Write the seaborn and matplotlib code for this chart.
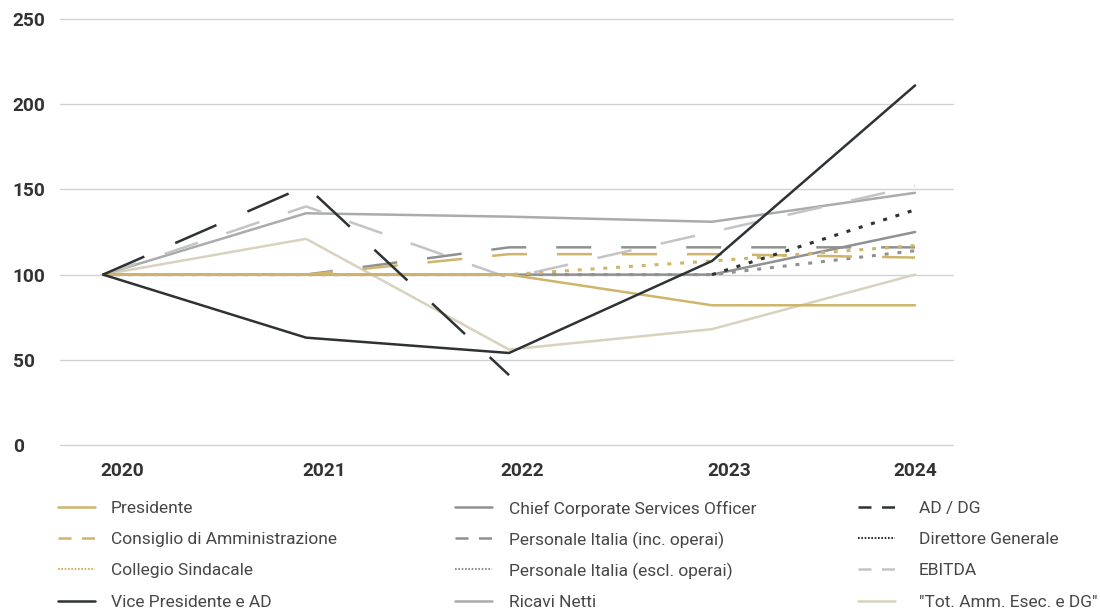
import numpy as np
import pandas as pd
import matplotlib
matplotlib.use("Agg")
import matplotlib.pyplot as plt
from matplotlib.lines import Line2D
import seaborn as sns

# Index values (2020 = 100)
years = ["2020", "2021", "2022", "2023", "2024"]
presidente = [100, 100, 100, 82, 82]
consiglio = [100, 100, 112, 112, 110]
collegio = [100, 100, 100, 108, 117]
vice_presidente = [100, 63, 54, 108, 211]
ccso = [100, 100, 100, 100, 125]
personale_inc = [100, 100, 116, 116, 116]
personale_escl = [100, 100, 100, 100, 114]
ricavi = [100, 136, 134, 131, 148]
ad_dg = [100, 152, 41, np.nan, np.nan]
direttore = [np.nan, np.nan, np.nan, 100, 138]
ebitda = [100, 140, 98, 125, 152]
tot_amm = [100, 121, 56, 68, 100]

GOLD = "#cfb46a"
DARK = "#2e3234"
GREY = "#8f9191"
LIGHT = "#a9acac"
PALE = "#c4c4c4"
BEIGE = "#d8d2bf"

LW = 1.8
SOLID = "-"
DASH = (0, (14, 12))
LONG_DASH = (0, (18, 13.5))
DOT = (0, (1.3, 2.9))

# name, values, colour, line style on chart, legend handle style
series = [
    ("Presidente", presidente, GOLD, SOLID, "solid"),
    ("Consiglio di Amministrazione", consiglio, GOLD, DASH, "dash"),
    ("Collegio Sindacale", collegio, GOLD, DOT, "dot"),
    ("Vice Presidente e AD", vice_presidente, DARK, SOLID, "solid"),
    ("Chief Corporate Services Officer", ccso, GREY, SOLID, "solid"),
    ("Personale Italia (inc. operai)", personale_inc, GREY, DASH, "dash"),
    ("Personale Italia (escl. operai)", personale_escl, GREY, DOT, "dot"),
    ("Ricavi Netti", ricavi, LIGHT, SOLID, "solid"),
    ("AD / DG", ad_dg, DARK, LONG_DASH, "dash"),
    ("Direttore Generale", direttore, DARK, DOT, "dot"),
    ("EBITDA", ebitda, PALE, DASH, "dash"),
    ('"Tot. Amm. Esec. e DG"', tot_amm, BEIGE, SOLID, "solid"),
]

sns.set_theme(style="white")
plt.rcParams["font.family"] = ["Roboto", "DejaVu Sans"]

W, H = 1100, 611
fig = plt.figure(figsize=(W / 100, H / 100), dpi=100)
ax = fig.add_axes([60 / W, 1 - 445 / H, (953 - 60) / W, (445 - 19) / H])

xpos = np.arange(len(years))
draw_order = [11, 7, 10, 4, 5, 6, 0, 1, 2, 9, 3, 8]
for z, i in enumerate(draw_order):
    name, vals, color, ls, _ = series[i]
    df = pd.DataFrame({"x": xpos, "y": vals}).dropna()
    lw = 2.2 if ls == DOT else LW
    sns.lineplot(data=df, x="x", y="y", ax=ax, color=color, lw=lw,
                 linestyle=ls, legend=False, zorder=3 + z)

ax.set_xlim(-0.212, 4.187)
ax.set_ylim(0, 250)
ax.set_yticks([0, 50, 100, 150, 200, 250])
ax.grid(axis="y", color="#d2d2d2", lw=1.0)
ax.grid(axis="x", visible=False)
for g in ax.get_ygridlines():
    g.set_clip_on(False)
for s in ax.spines.values():
    s.set_visible(False)
ax.set_xlabel("")
ax.set_ylabel("")

label_pos = [0.094, 1.089, 2.064, 3.084, 4.0]
ax.set_xticks(label_pos)
ax.set_xticklabels(years)
ax.tick_params(axis="x", length=0, pad=12, labelsize=13.8, labelcolor="#333333")
ax.tick_params(axis="y", length=0, pad=34, labelsize=13.8, labelcolor="#333333")
for t in ax.get_xticklabels() + ax.get_yticklabels():
    t.set_fontweight("bold")
for t in ax.get_yticklabels():
    t.set_horizontalalignment("left")

# Legend: three columns of four entries, rows aligned across columns
handle_styles = {
    "solid": ("-", 1.8),
    "dash": ((0, (5.2, 4.2)), 1.8),
    "dot": ((0, (0.8, 0.8)), 1.5),
}
col_handle_x = [58, 455, 858]
col_text_x = [111, 509, 919]
row_y = [507, 538, 569, 601]
handle_len = 37
for c in range(3):
    for r in range(4):
        name, _, color, _, kind = series[c * 4 + r]
        ls, lw = handle_styles[kind]
        x0 = col_handle_x[c]
        y = 1 - row_y[r] / H
        fig.add_artist(Line2D([x0 / W, (x0 + handle_len) / W], [y, y],
                              transform=fig.transFigure, color=color,
                              lw=lw, linestyle=ls))
        fig.text(col_text_x[c] / W, y, name, ha="left", va="center_baseline",
                 fontsize=12.5, color="#474747")

fig.savefig("out.png", dpi=100)
